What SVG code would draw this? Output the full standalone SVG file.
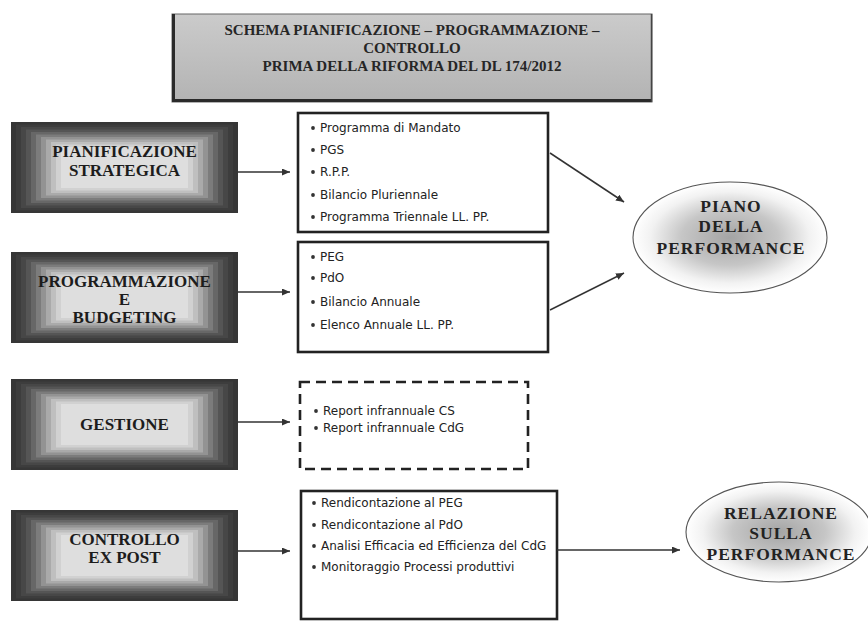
<svg xmlns="http://www.w3.org/2000/svg" xmlns:xlink="http://www.w3.org/1999/xlink" width="868" height="634" viewBox="0 0 868 634">
  <style>
    .hdr { font-family: "Liberation Serif", "Times New Roman", serif; font-weight: bold; font-size: 15px; fill: #262626; text-anchor: middle; }
    .lbl { font-family: "Liberation Serif", "Times New Roman", serif; font-weight: bold; font-size: 17px; fill: #1c1c1c; text-anchor: middle; }
    .oval { font-family: "Liberation Serif", "Times New Roman", serif; font-weight: bold; font-size: 17.5px; letter-spacing: 1px; fill: #222; text-anchor: middle; }
    .item { font-family: "DejaVu Sans", "Liberation Sans", sans-serif; font-size: 12px; fill: #222; }
    .list { fill: #fff; stroke: #222; stroke-width: 2.6; }
    .dash { fill: #fff; stroke: #222; stroke-width: 2.6; stroke-dasharray: 10 6; }
    .dot { fill: #333; }
    .link { stroke: #333; stroke-width: 1.5; fill: none; marker-end: url(#arrow); }
    .ell { stroke: #555; stroke-width: 1.1; fill: url(#ovalShade); }
  </style>
  <defs>
    <marker id="arrow" markerUnits="userSpaceOnUse" markerWidth="9" markerHeight="7" refX="8" refY="3.5" orient="auto">
      <path d="M0,0 L8,3.5 L0,7 z" fill="#333"/>
    </marker>
    <linearGradient id="hdrFill" x1="0" y1="0" x2="0" y2="1">
      <stop offset="0" stop-color="#cbcbcb"/>
      <stop offset="1" stop-color="#b3b3b3"/>
    </linearGradient>
    <radialGradient id="ovalShade" cx="0.5" cy="0.5" r="0.5">
      <stop offset="0" stop-color="#a4a4a4"/>
      <stop offset="0.5" stop-color="#c6c6c6"/>
      <stop offset="0.82" stop-color="#f2f2f2"/>
      <stop offset="1" stop-color="#ffffff"/>
    </radialGradient>
    <!-- stepped bevel shading for the phase boxes (227 x 91) -->
    <g id="shade">
      <rect x="0" y="0" width="227" height="91" fill="#363636"/>
      <rect x="5" y="2.5" width="217" height="86" fill="#3d3d3d"/>
      <rect x="10" y="5" width="207" height="81" fill="#474747"/>
      <rect x="15" y="7.5" width="197" height="76" fill="#555555"/>
      <rect x="20" y="10" width="187" height="71" fill="#676767"/>
      <rect x="25" y="12.5" width="177" height="66" fill="#7c7c7c"/>
      <rect x="30" y="15" width="167" height="61" fill="#939393"/>
      <rect x="35" y="17.5" width="157" height="56" fill="#aaaaaa"/>
      <rect x="40" y="20" width="147" height="51" fill="#bfbfbf"/>
      <rect x="45" y="22.5" width="137" height="46" fill="#d1d1d1"/>
      <rect x="50" y="25" width="127" height="41" fill="#dedede"/>
    </g>
  </defs>

  <rect width="868" height="634" fill="#fff"/>

  <!-- header -->
  <g id="title">
    <rect x="172" y="14" width="480" height="88" fill="url(#hdrFill)" stroke="#666" stroke-width="1"/>
    <line x1="173.5" y1="14" x2="173.5" y2="102" stroke="#2a2a2a" stroke-width="3"/>
    <line x1="172" y1="100.5" x2="652" y2="100.5" stroke="#2a2a2a" stroke-width="3"/>
    <line x1="651.5" y1="14" x2="651.5" y2="102" stroke="#444" stroke-width="1.5"/>
    <text class="hdr" x="412" y="35">SCHEMA PIANIFICAZIONE – PROGRAMMAZIONE –</text>
    <text class="hdr" x="412" y="53">CONTROLLO</text>
    <text class="hdr" x="412" y="71">PRIMA DELLA RIFORMA DEL DL 174/2012</text>
  </g>

  <!-- phase boxes -->
  <g id="pianificazione">
    <use xlink:href="#shade" x="11" y="122"/>
    <text class="lbl" x="124.5" y="157">PIANIFICAZIONE</text>
    <text class="lbl" x="124.5" y="176">STRATEGICA</text>
  </g>
  <g id="programmazione">
    <use xlink:href="#shade" x="11" y="252"/>
    <text class="lbl" x="124.5" y="287">PROGRAMMAZIONE</text>
    <text class="lbl" x="124.5" y="305">E</text>
    <text class="lbl" x="124.5" y="323">BUDGETING</text>
  </g>
  <g id="gestione">
    <use xlink:href="#shade" x="11" y="379"/>
    <text class="lbl" x="124.5" y="430">GESTIONE</text>
  </g>
  <g id="controllo">
    <use xlink:href="#shade" x="11" y="510"/>
    <text class="lbl" x="124.5" y="545">CONTROLLO</text>
    <text class="lbl" x="124.5" y="563">EX POST</text>
  </g>

  <!-- instrument lists -->
  <g id="strumenti-strategici">
    <rect class="list" x="298" y="113" width="250" height="119"/>
    <circle class="dot" cx="313" cy="128" r="1.9"/>
    <circle class="dot" cx="313" cy="150" r="1.9"/>
    <circle class="dot" cx="313" cy="172" r="1.9"/>
    <circle class="dot" cx="313" cy="195" r="1.9"/>
    <circle class="dot" cx="313" cy="217" r="1.9"/>
    <text class="item" x="320" y="132">Programma di Mandato</text>
    <text class="item" x="320" y="154">PGS</text>
    <text class="item" x="320" y="176">R.P.P.</text>
    <text class="item" x="320" y="199">Bilancio Pluriennale</text>
    <text class="item" x="320" y="221">Programma Triennale LL. PP.</text>
  </g>
  <g id="strumenti-budget">
    <rect class="list" x="298" y="242" width="250" height="110"/>
    <circle class="dot" cx="313" cy="257" r="1.9"/>
    <circle class="dot" cx="313" cy="278" r="1.9"/>
    <circle class="dot" cx="313" cy="302" r="1.9"/>
    <circle class="dot" cx="313" cy="325" r="1.9"/>
    <text class="item" x="320" y="261">PEG</text>
    <text class="item" x="320" y="282">PdO</text>
    <text class="item" x="320" y="306">Bilancio Annuale</text>
    <text class="item" x="320" y="329">Elenco Annuale LL. PP.</text>
  </g>
  <g id="report-gestione">
    <rect class="dash" x="300" y="382" width="228" height="87"/>
    <circle class="dot" cx="316" cy="411" r="1.9"/>
    <circle class="dot" cx="316" cy="428" r="1.9"/>
    <text class="item" x="323" y="415">Report infrannuale CS</text>
    <text class="item" x="323" y="432">Report infrannuale CdG</text>
  </g>
  <g id="rendicontazione">
    <rect class="list" x="301" y="491" width="256" height="128"/>
    <circle class="dot" cx="314" cy="503" r="1.9"/>
    <circle class="dot" cx="314" cy="525" r="1.9"/>
    <circle class="dot" cx="314" cy="546" r="1.9"/>
    <circle class="dot" cx="314" cy="567" r="1.9"/>
    <text class="item" x="321" y="507">Rendicontazione al PEG</text>
    <text class="item" x="321" y="529">Rendicontazione al PdO</text>
    <text class="item" x="321" y="550">Analisi Efficacia ed Efficienza del CdG</text>
    <text class="item" x="321" y="571">Monitoraggio Processi produttivi</text>
  </g>

  <!-- outputs -->
  <g id="piano-performance">
    <ellipse class="ell" cx="730" cy="237.5" rx="97" ry="55.5"/>
    <text class="oval" x="731" y="212">PIANO</text>
    <text class="oval" x="731" y="232">DELLA</text>
    <text class="oval" x="731" y="254">PERFORMANCE</text>
  </g>
  <g id="relazione-performance">
    <ellipse class="ell" cx="779" cy="532" rx="93" ry="50"/>
    <text class="oval" x="781" y="519">RELAZIONE</text>
    <text class="oval" x="781" y="539">SULLA</text>
    <text class="oval" x="781" y="560">PERFORMANCE</text>
  </g>

  <!-- connectors -->
  <g id="connectors">
    <line class="link" x1="238" y1="172" x2="290" y2="172"/>
    <line class="link" x1="238" y1="292" x2="290" y2="292"/>
    <line class="link" x1="238" y1="422" x2="290" y2="422"/>
    <line class="link" x1="238" y1="551" x2="290" y2="551"/>
    <line class="link" x1="550" y1="153" x2="624" y2="202"/>
    <line class="link" x1="550" y1="310" x2="624" y2="273"/>
    <line class="link" x1="557" y1="550" x2="680" y2="550"/>
  </g>
</svg>
